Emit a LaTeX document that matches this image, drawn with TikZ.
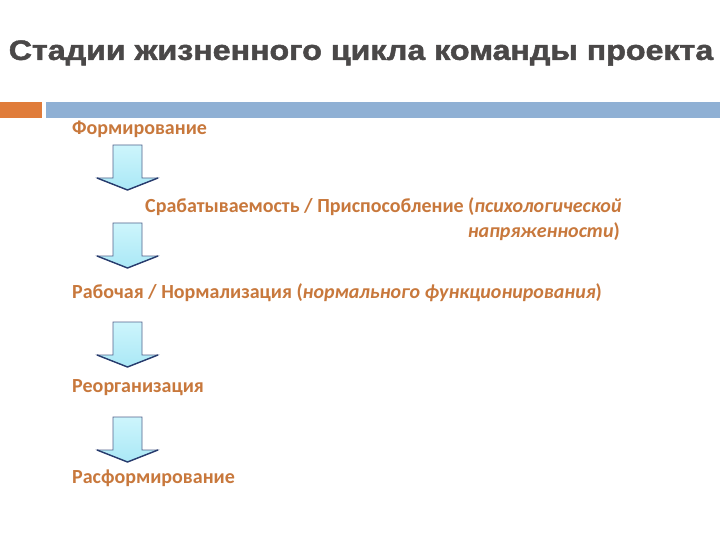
\documentclass[tikz,border=0pt]{standalone}
\usepackage{fontspec}
\setmainfont{Carlito}
\newfontfamily\titlefont[FakeBold=1.6]{Liberation Sans Bold}
\definecolor{titlegray}{RGB}{74,72,72}
\definecolor{stageorange}{RGB}{200,120,60}
\definecolor{barorange}{RGB}{224,124,58}
\definecolor{barblue}{RGB}{143,176,212}
\definecolor{arrowline}{RGB}{40,60,110}
\definecolor{arrowtop}{RGB}{205,245,252}
\definecolor{arrowbottom}{RGB}{170,232,246}
\tikzset{
  stage/.style={anchor=west,inner sep=0pt,text=stageorange,font=\fontsize{20}{24}\selectfont\bfseries},
  blockarrow/.style={top color=arrowtop,bottom color=arrowbottom,draw=arrowline!80,line width=.6pt}
}
\begin{document}
\begin{tikzpicture}[x=1pt,y=-1pt]
\useasboundingbox[fill=white] (0,0) rectangle (720,540);
\node[inner sep=0pt,xscale=1.15,text=titlegray,font=\titlefont\fontsize{28}{32}\selectfont] (title) at (361,53) {Стадии жизненного цикла команды проекта};
\fill[barorange] (0,102) rectangle (42,118);
\fill[barblue] (46,102) rectangle (720,118);
\node[stage] (form) at (72,129) {Формирование};
\node[stage] (adapt) at (145,207) {Срабатываемость / Приспособление (\textit{психологической}};
\node[stage,anchor=east] (adapt2) at (620,232) {\textit{напряженности})};
\node[stage] (norm) at (72,293) {Рабочая / Нормализация (\textit{нормального функционирования})};
\node[stage] (reorg) at (72,388) {Реорганизация};
\node[stage] (disb) at (72,478) {Расформирование};
% arrows between stages
\foreach \t in {145,223,322,417}{
  \draw[blockarrow] (113,\t) -- (142,\t) -- (142,\t+33) -- (158,\t+33) -- (127.5,\t+45) -- (97,\t+33) -- (113,\t+33) -- cycle;
  \draw[arrowline,line width=1.4pt,line join=round] (97,\t+33) -- (127.5,\t+45) -- (158,\t+33);
}
\end{tikzpicture}
\end{document}
